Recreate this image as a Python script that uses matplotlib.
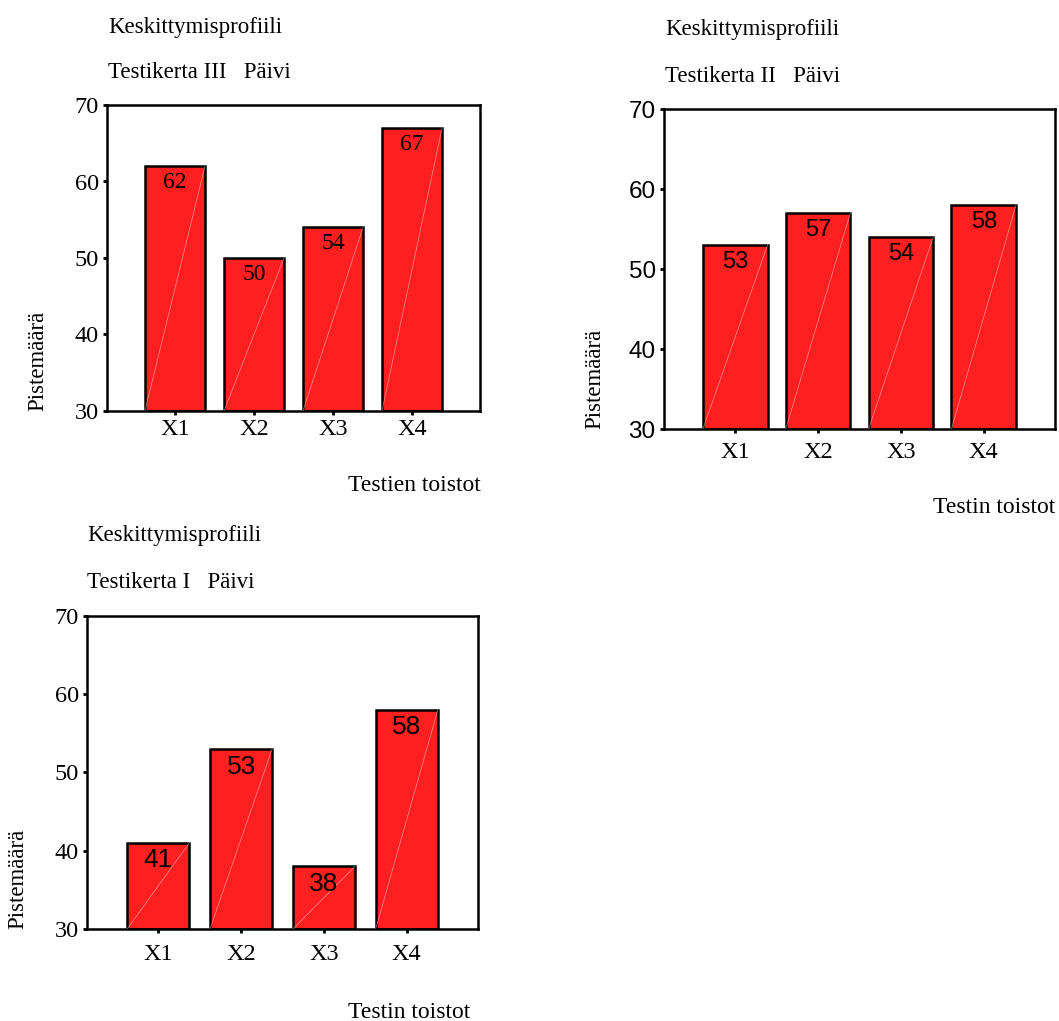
import numpy as np
import matplotlib.pyplot as plt

# data
categories = ['X1', 'X2', 'X3', 'X4']
vals_III = [62, 50, 54, 67]
vals_II = [53, 57, 54, 58]
vals_I = [41, 53, 38, 58]
yticks = [30, 40, 50, 60, 70]

W, H = 1059, 1021
SERIF = 'Liberation Serif'
SANS = 'Liberation Sans'
RED = '#fe2020'

fig = plt.figure(figsize=(W / 100, H / 100), dpi=100)


def px(x, y):
    # pixel coords -> figure fraction
    return x / W, 1 - y / H


def panel(box, vals, sub, xlab, tickfont, valfont, valsize, ttl, ylab_pos, xlab_pos, bw, xpad):
    l, t, r, b = box
    ax = fig.add_axes([l / W, 1 - b / H, (r - l) / W, (b - t) / H])
    x = np.arange(1, len(vals) + 1)
    ax.bar(x, np.array(vals) - 30, bottom=30, width=bw, color=RED,
           edgecolor='black', linewidth=1.8, zorder=2)
    # faint diagonal shine in each bar
    for xi, v in zip(x, vals):
        ax.plot([xi - bw / 2, xi + bw / 2], [30, v], color='white', lw=0.5,
                alpha=0.5, zorder=3)
        ax.annotate(str(v), (xi, v), xytext=(0, -4), textcoords='offset points',
                    ha='center', va='top', fontsize=valsize, family=valfont, zorder=4)
    ax.set_xlim(0.14, 4.86)
    ax.set_ylim(30, 70)
    ax.set_yticks(yticks)
    ax.set_yticklabels([str(v) for v in yticks], family=tickfont, fontsize=17.5)
    ax.set_xticks(x)
    ax.set_xticklabels(categories, family=SERIF, fontsize=17.5)
    ax.tick_params(axis='y', length=3, width=2, pad=3)
    ax.tick_params(axis='x', length=3, width=2, pad=xpad)
    for s in ax.spines.values():
        s.set_linewidth(1.8)

    tx, ty1, ty2 = ttl
    fig.text(*px(tx, ty1), 'Keskittymisprofiili', family=SERIF, fontsize=16.5,
             ha='left', va='center')
    fig.text(*px(tx, ty2), sub, family=SERIF, fontsize=16.5, ha='left', va='center')
    fig.text(*px(*ylab_pos), 'Pistemäärä', family=SERIF, fontsize=16.5,
             rotation=90, ha='center', va='bottom')
    fig.text(*px(*xlab_pos), xlab, family=SERIF, fontsize=17, ha='right',
             va='center')
    return ax


panel((107, 105, 480, 411), vals_III, 'Testikerta III   Päivi', 'Testien toistot',
      SERIF, SERIF, 17, (108, 27, 73), (38, 411), (481, 485), 0.76, 3)
panel((664, 109, 1055, 429), vals_II, 'Testikerta II   Päivi', 'Testin toistot',
      SANS, SANS, 17, (665, 29, 76), (595, 429), (1055, 507), 0.78, 6)
panel((87, 616, 478, 929), vals_I, 'Testikerta I   Päivi', 'Testin toistot',
      SERIF, SANS, 19, (87, 535, 582), (18, 929), (470, 1012), 0.75, 8)

fig.savefig('out.png', dpi=100)
